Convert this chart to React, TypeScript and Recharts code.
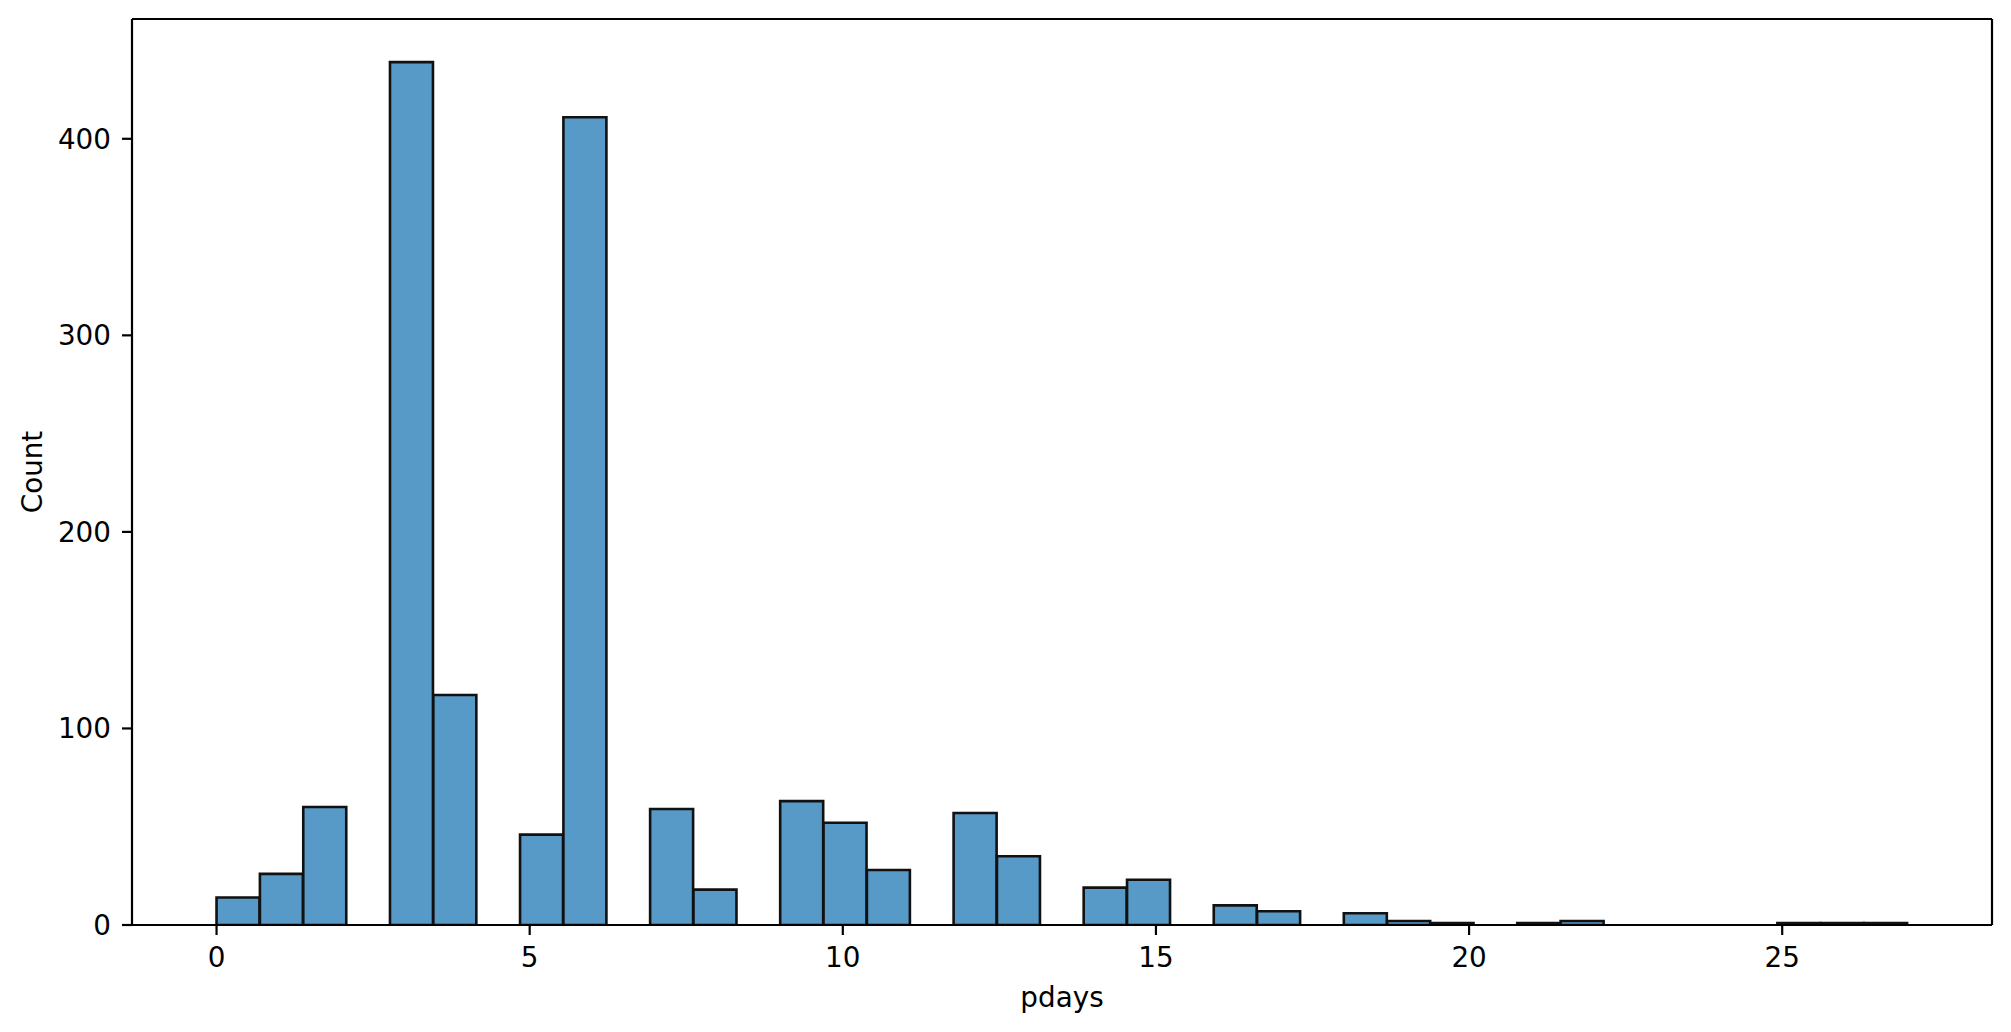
import { BarChart, Bar, XAxis, YAxis } from "recharts";

// histogram of pdays: 39 equal bins spanning 0..27
const BIN_START = 0;
const BIN_END = 27;
const COUNTS = [
  14, 26, 60, 0, 439, 117, 0, 46, 411, 0, 59, 18, 0, 63, 52, 28, 0, 57, 35, 0,
  19, 23, 0, 10, 7, 0, 6, 2, 1, 0, 1, 2, 0, 0, 0, 0, 1, 1, 1,
];
const X_TICKS = [0, 5, 10, 15, 20, 25];
const Y_TICKS = [0, 100, 200, 300, 400];

const binWidth = (BIN_END - BIN_START) / COUNTS.length;
const data = COUNTS.map((count, i) => ({
  mid: BIN_START + (i + 0.5) * binWidth,
  count,
}));

// matplotlib-style 5% margins on x
const pad = (BIN_END - BIN_START) * 0.05;
const X_DOMAIN = [BIN_START - pad, BIN_END + pad];

const FONT = "DejaVu Sans";
const FONT_SIZE = 27.8;
const LINE = { stroke: "#000", strokeWidth: 2.2 };
const tickStyle = { fill: "#000", fontSize: FONT_SIZE, fontFamily: FONT };

function XLabel(props: any) {
  const { viewBox } = props;
  return (
    <text
      x={viewBox.x + viewBox.width / 2}
      y={viewBox.y + 82}
      textAnchor="middle"
      fill="#000"
      fontSize={FONT_SIZE}
      fontFamily={FONT}
    >
      pdays
    </text>
  );
}

function YLabel(props: any) {
  const { viewBox } = props;
  const x = viewBox.x + 42;
  const y = viewBox.y + viewBox.height / 2;
  return (
    <text
      x={x}
      y={y}
      transform={`rotate(-90, ${x}, ${y})`}
      textAnchor="middle"
      fill="#000"
      fontSize={FONT_SIZE}
      fontFamily={FONT}
    >
      Count
    </text>
  );
}

export default function App() {
  return (
    <div style={{ position: "absolute", left: 0, top: 0, width: 2011, height: 1032, background: "#fff" }}>
      <BarChart
        width={2011}
        height={1032}
        data={data}
        margin={{ top: 18, right: 18, bottom: 0, left: 0 }}
        barCategoryGap={0}
        barGap={0}
      >
        <XAxis
          dataKey="mid"
          type="number"
          domain={X_DOMAIN}
          allowDataOverflow
          ticks={X_TICKS}
          interval={0}
          height={107}
          tickSize={10}
          tickMargin={12}
          axisLine={LINE}
          tickLine={LINE}
          tick={tickStyle}
          label={XLabel}
        />
        {/* top spine */}
        <XAxis
          xAxisId="top"
          orientation="top"
          dataKey="mid"
          type="number"
          domain={X_DOMAIN}
          allowDataOverflow
          height={1}
          tick={false}
          tickLine={false}
          axisLine={LINE}
        />
        <YAxis
          type="number"
          domain={[0, (dataMax: number) => dataMax * 1.05]}
          allowDataOverflow
          ticks={Y_TICKS}
          interval={0}
          width={132}
          tickSize={10}
          tickMargin={11}
          axisLine={LINE}
          tickLine={LINE}
          tick={tickStyle}
          label={YLabel}
        />
        {/* right spine */}
        <YAxis
          yAxisId="right"
          orientation="right"
          type="number"
          domain={[0, (dataMax: number) => dataMax * 1.05]}
          width={1}
          tick={false}
          tickLine={false}
          axisLine={LINE}
        />
        <Bar
          dataKey="count"
          fill="#5799c7"
          stroke="#111"
          strokeWidth={2.6}
          isAnimationActive={false}
        />
      </BarChart>
    </div>
  );
}
